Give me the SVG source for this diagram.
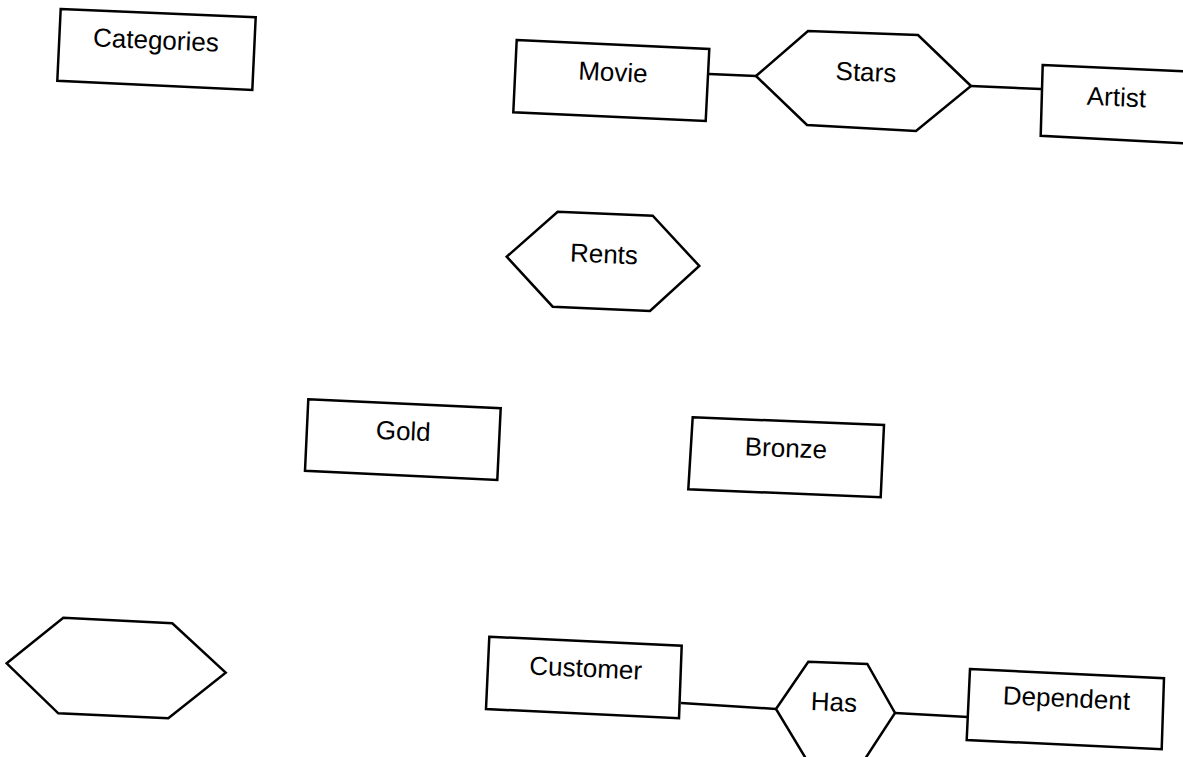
<svg xmlns="http://www.w3.org/2000/svg" width="1183" height="757" viewBox="0 0 1183 757">
<style>
.shape{fill:#fff;stroke:#000;stroke-width:2.5;stroke-linejoin:miter}
.conn{stroke:#000;stroke-width:2.5;fill:none}
.lbl{font-family:"Liberation Sans",Arial,sans-serif;font-size:26px;fill:#000;text-anchor:middle}
</style>
<rect width="1183" height="757" fill="#fff"/>
<g id="connectors">
<line class="conn" x1="709" y1="74" x2="756" y2="76"/>
<line class="conn" x1="971" y1="86" x2="1041" y2="89"/>
<line class="conn" x1="681" y1="703" x2="776" y2="709"/>
<line class="conn" x1="895" y1="713" x2="968" y2="717"/>
</g>
<g id="categories">
<polygon class="shape" points="60.7,9 255.7,17.3 252.3,90 57.3,80.7"/>
<text class="lbl" x="156" y="49" transform="rotate(2.4 156 40)">Categories</text>
</g>
<g id="movie">
<polygon class="shape" points="516.7,40 709.3,49 705.7,121 513.3,112.3"/>
<text class="lbl" x="613" y="81" transform="rotate(2.6 613 72)">Movie</text>
</g>
<g id="stars">
<polygon class="shape" points="756,76 808,31 918,35 971,86 916,131 807,125"/>
<text class="lbl" x="866" y="81" transform="rotate(2.4 866 72)">Stars</text>
</g>
<g id="artist">
<polygon class="shape" points="1042.7,65 1190,71.5 1190,143.6 1040.7,135.7"/>
<text class="lbl" x="1116.5" y="106" transform="rotate(2.4 1116.5 97)">Artist</text>
</g>
<g id="rents">
<polygon class="shape" points="506.7,256.7 557.7,211.7 652.7,215.7 699.3,266 650,311 552.7,306.7"/>
<text class="lbl" x="604" y="263" transform="rotate(2.4 604 254)">Rents</text>
</g>
<g id="gold">
<polygon class="shape" points="308.3,399.3 500.7,408.3 497.3,480 305,470.7"/>
<text class="lbl" x="403.3" y="440" transform="rotate(2.6 403 431)">Gold</text>
</g>
<g id="bronze">
<polygon class="shape" points="692.7,417.3 884,425 880.7,497.3 688.3,489.3"/>
<text class="lbl" x="786" y="457" transform="rotate(2.3 786 448)">Bronze</text>
</g>
<g id="blank-relationship">
<polygon class="shape" points="6.7,663.3 63.3,617.7 172.3,623.3 225.7,672.7 168.3,718.3 58.3,713.3"/>
</g>
<g id="customer">
<polygon class="shape" points="489.3,636.7 681.7,645.7 679,718.3 486,709"/>
<text class="lbl" x="585.8" y="677" transform="rotate(2.6 586 668)">Customer</text>
</g>
<g id="has">
<polygon class="shape" points="776,709 808.3,661.7 867.3,664 895,713 863,762 808,762"/>
<text class="lbl" x="834" y="711" transform="rotate(2.4 834 702)">Has</text>
</g>
<g id="dependent">
<polygon class="shape" points="970,669 1164,678.3 1161.7,749.3 966.7,740"/>
<text class="lbl" x="1066.5" y="707" transform="rotate(2.6 1066 698)">Dependent</text>
</g>
</svg>
